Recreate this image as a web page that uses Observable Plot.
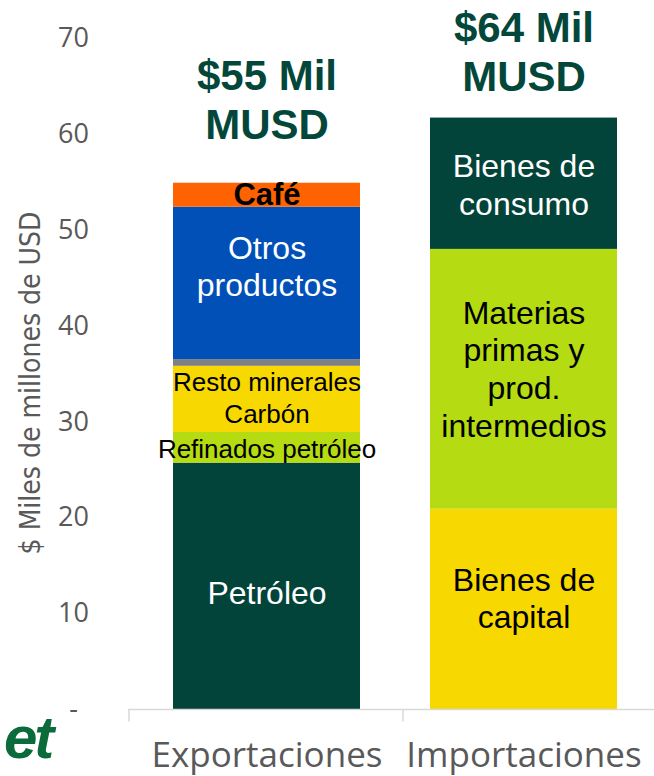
<!DOCTYPE html>
<html><head><meta charset="utf-8">
<script src="https://cdn.jsdelivr.net/npm/d3@7"></script>
<script src="https://cdn.jsdelivr.net/npm/@observablehq/plot@0.6"></script>
<style>
body{margin:0;background:#fff;}
#wrap{position:relative;width:654px;height:776px;overflow:hidden;}
#logo{position:absolute;left:4px;top:708px;font:italic 900 60px "Liberation Sans",Arial,sans-serif;color:#0b6b3a;letter-spacing:-3px;line-height:1;}
</style></head><body><div id="wrap"><div id="chart"></div><div id="logo">et</div></div>
<script>
// ---- data ----
const categories = ["Exportaciones", "Importaciones"];
const exportNames = ["Petróleo", "Refinados petróleo", "Carbón", "Resto minerales", "Otros productos", "Café"];
const exportLabels = ["Petróleo", "Refinados petróleo", "Carbón", "Resto minerales", "Otros\nproductos", "Café"];
const exportValues = [25.7, 3.2, 6.9, 0.7, 15.9, 2.5];
const exportColors = ["#03443a", "#b5db12", "#f7d800", "#808080", "#0050b8", "#ff6200"];
const importNames = ["Bienes de capital", "Materias primas y prod. intermedios", "Bienes de consumo"];
const importLabels = ["Bienes de\ncapital", "Materias\nprimas y\nprod.\nintermedios", "Bienes de\nconsumo"];
const importValues = [20.9, 27.1, 13.7];
const importColors = ["#f7d800", "#b5db12", "#03443a"];
const totalLabels = ["$55 Mil\nMUSD", "$64 Mil\nMUSD"];
const yTicks = [0, 10, 20, 30, 40, 50, 60, 70];

// ---- tables ----
const rows = [
  ...exportNames.map((n, i) => ({cat: categories[0], name: n, label: exportLabels[i], value: exportValues[i], color: exportColors[i]})),
  ...importNames.map((n, i) => ({cat: categories[1], name: n, label: importLabels[i], value: importValues[i], color: importColors[i]}))
];
const totals = categories.map((c, i) => ({cat: c, label: totalLabels[i], top: d3.sum(rows.filter(r => r.cat === c), r => r.value)}));

// label styling (offsets in px)
const labelStyle = {
  "Petróleo": {fill: "white", fontSize: 32, dy: 6},
  "Refinados petróleo": {fill: "black", fontSize: 26, dy: 0},
  "Carbón": {fill: "black", fontSize: 26, dy: 14},
  "Resto minerales": {fill: "black", fontSize: 26, dy: 18},
  "Otros productos": {fill: "white", fontSize: 32, dy: -18},
  "Café": {fill: "black", fontSize: 31, dy: -2, fontWeight: "bold"},
  "Bienes de capital": {fill: "black", fontSize: 32, dy: -12},
  "Materias primas y prod. intermedios": {fill: "black", fontSize: 32, dy: -11},
  "Bienes de consumo": {fill: "white", fontSize: 32, dy: 0}
};

const barFont = '"Liberation Sans", Arial, sans-serif';
const axisFont = '"Open Sans", "DejaVu Sans", sans-serif';

const labelMarks = rows.map(r => {
  const s = labelStyle[r.name];
  return Plot.text(rows, Plot.filter(d => d.name === r.name, Plot.stackY({
    x: "cat", y: "value", z: "name", text: "label",
    fill: s.fill, fontSize: s.fontSize, fontWeight: s.fontWeight || "normal",
    fontFamily: barFont, dy: s.dy, lineHeight: 1.18, lineAnchor: "middle"
  })));
});

const totalDy = [-44, -27];
const totalMarks = totals.map((t, i) => Plot.text([t], {
  x: "cat", y: "top", text: "label", fill: "#03473a", fontSize: 42, fontWeight: "bold",
  fontFamily: barFont, lineAnchor: "bottom", lineHeight: 1.17, dy: totalDy[i]
}));

const chart = Plot.plot({
  width: 654,
  height: 776,
  marginLeft: 128,
  marginRight: 0,
  marginTop: 38,
  marginBottom: 67,
  style: {fontFamily: axisFont, color: "#595959", background: "white"},
  x: {type: "band", domain: categories, range: [128, 662], paddingInner: 0.271, paddingOuter: 0.1705, label: null},
  y: {domain: [0, 70], label: null},
  marks: [
    Plot.barY(rows, Plot.stackY({x: "cat", y: "value", z: "name", fill: "color"})),
    Plot.ruleY([0], {stroke: "#d9d9d9", strokeWidth: 1.5}),
    Plot.ruleX([categories[0]], {x: d => d, y1: 0, y2: -1.3, dx: -138, stroke: "#d9d9d9", strokeWidth: 1.5}),
    Plot.ruleX([categories[1]], {x: d => d, y1: 0, y2: -1.3, dx: -121, stroke: "#d9d9d9", strokeWidth: 1.5}),
    Plot.axisY(yTicks, {tickSize: 0, tickPadding: 55, textAnchor: "middle", fontSize: 27, fill: "#595959",
      tickFormat: d => d === 0 ? "-" : String(d), label: null}),
    Plot.axisX({tickSize: 0, tickPadding: 33, fontSize: 35, fill: "#595959", label: null}),
    Plot.text(["$ Miles de millones de USD"], {frameAnchor: "left", textAnchor: "middle", lineAnchor: "middle",
      text: d => d, rotate: -90, dx: -97, dy: 9,
      fontSize: 28, fill: "#595959", fontFamily: '"Liberation Sans Narrow", "DejaVu Sans Condensed", "Open Sans", sans-serif'}),
    ...labelMarks,
    ...totalMarks
  ]
});
document.getElementById("chart").appendChild(chart);
</script>
</body></html>
